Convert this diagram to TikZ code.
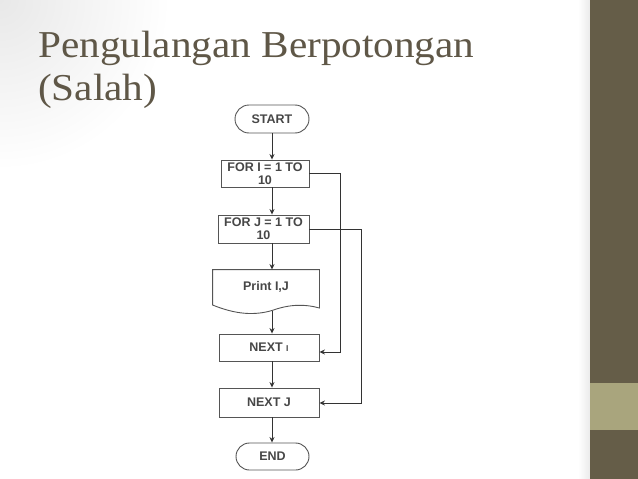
\documentclass[tikz,border=0pt]{standalone}
\usepackage{fontspec}
\setmainfont{Liberation Sans}
\newfontfamily\titlefont{Liberation Serif}
\usetikzlibrary{arrows.meta}
\usetikzlibrary{positioning}
\definecolor{barbrown}{HTML}{655D48}
\definecolor{barlight}{HTML}{A9A57D}
\definecolor{titlegray}{HTML}{5F5747}
\definecolor{linegray}{HTML}{333333}
\definecolor{boxgray}{HTML}{555555}

\begin{document}
\begin{tikzpicture}[x=1pt,y=-1pt]
	\useasboundingbox (0,0) rectangle (638,479);
	% slide background and side bar
	\fill[white] (0,0) rectangle (638,479);
	\begin{scope}
		\clip (0,0) rectangle (590,479);
		\shade[inner color=black!9, outer color=white] (0,0) circle (170pt);
	\end{scope}
	\shade[left color=white, right color=black!8] (578,0) rectangle (590,479);
	\fill[barbrown] (590,0) rectangle (638,479);
	\fill[barlight] (590,383) rectangle (638,430);

	% title
	\node[anchor=base west, inner sep=0pt, text=titlegray,
	      font=\titlefont\fontsize{38}{44}\selectfont] (title1) at (38,57) {\scalebox{1.085}[1]{Pengulangan Berpotongan}};
	\node[anchor=base west, inner sep=0pt, text=titlegray,
	      font=\titlefont\fontsize{38}{44}\selectfont] (title2) at (38,100) {\scalebox{1.085}[1]{(Salah)}};

	\begin{scope}[every node/.style={draw=boxgray, line width=0.9pt, text=black!72,
	              font=\bfseries\fontsize{12.5}{13}\selectfont, align=center, inner sep=1pt}]
		\node[rounded corners=14pt, minimum width=74pt, minimum height=28pt] (start) at (272,119) {START};
		\node[minimum width=88pt, minimum height=27pt] (fori) at (265,173.5) {FOR I = 1 TO\\10};
		\node[minimum width=91pt, minimum height=28pt] (forj) at (263.5,229) {FOR J = 1 TO\\10};
		\node[draw=none, minimum width=106pt, minimum height=34pt] (print) at (266,287) {Print I,J};
		\node[minimum width=100pt, minimum height=27pt] (nexti) at (269,347.5) {NEXT {\fontsize{8.5}{9}\selectfont I}};
		\node[minimum width=100pt, minimum height=29pt] (nextj) at (269,402.5) {NEXT J};
		\node[rounded corners=13.5pt, minimum width=73pt, minimum height=27pt] (end) at (272.5,456.5) {END};
	\end{scope}

	% document shape of the print step
	\coordinate (wave) at (272,310.5);
	\draw[boxgray, line width=0.9pt] (print.north west) -- (print.north east) -- (print.north east |- 0,308)
		.. controls (305,304) and (290,304) .. (wave)
		.. controls (250,317) and (230,312) .. (print.north west |- 0,305) -- cycle;

	\begin{scope}[>={Stealth[length=5.5pt, width=5pt]}, line width=1pt, draw=linegray]
		\draw[->] (start.south) -- (start.south |- fori.north);
		\draw[->] (start.south |- fori.south) -- (start.south |- forj.north);
		\draw[->] (start.south |- forj.south) -- (start.south |- print.north);
		\draw[->] (wave) -- (start.south |- nexti.north);
		\draw[->] (start.south |- nexti.south) -- (start.south |- nextj.north);
		\draw[->] (start.south |- nextj.south) -- (start.south |- end.north);
		% crossing loops
		\coordinate (loopi) at (340,352);
		\coordinate (loopj) at (361,403);
		\draw[->] (fori.east) -- (fori.east -| loopi) -- (loopi) -- (loopi -| nexti.east);
		\draw[->] (forj.east) -- (forj.east -| loopj) -- (loopj) -- (loopj -| nextj.east);
	\end{scope}
\end{tikzpicture}
\end{document}
